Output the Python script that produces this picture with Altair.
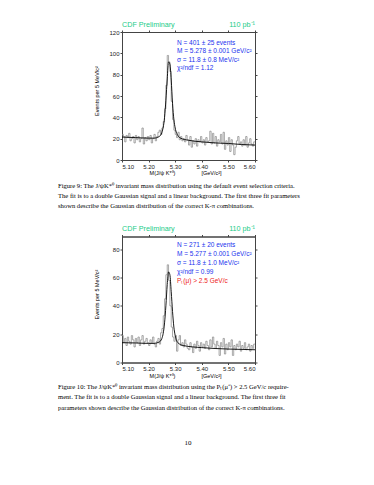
import altair as alt
import pandas as pd

# ---------------- data ----------------
bin_lo = 5.100
bin_w = 0.005

counts_top = [24, 22, 17, 23, 21, 25, 18, 20, 22, 16,
              23, 19, 22, 17, 20, 30, 15, 21, 18, 22,
              19, 23, 16, 20, 24, 18, 22, 26, 28, 24,
              30, 36, 48, 70, 98, 92, 83, 55, 38, 28,
              24, 21, 26, 19, 22, 18, 20, 17, 23, 19,
              14, 22, 12, 18, 15, 20, 13, 19, 17, 22,
              16, 19, 14, 21, 17, 18, 27, 15, 25, 16,
              22, 13, 19, 17, 24, 15, 26, 10, 18, 14,
              21, 8, 19, 14, 5, 12, 18, 22, 15, 17,
              13, 19, 14, 22, 12, 16, 20, 15, 13, 17]

counts_bot = [19, 14, 17, 12, 18, 15, 13, 19, 16, 11,
              17, 14, 18, 12, 16, 19, 13, 15, 17, 14,
              12, 16, 14, 18, 13, 11, 15, 17, 13, 21,
              24, 33, 45, 62, 69, 58, 40, 25, 18, 15,
              19, 8, 16, 19, 12, 14, 11, 16, 13, 10,
              9, 14, 11, 7, 13, 10, 15, 12, 8, 14,
              11, 13, 10, 15, 12, 9, 16, 11, 18, 13,
              10, 15, 12, 5, 14, 11, 17, 6, 13, 9,
              14, 11, 16, 5, 12, 9, 13, 11, 15, 8,
              12, 10, 14, 9, 11, 13, 8, 12, 10, 13]

fit_top_x = [5.10, 5.15, 5.20, 5.22, 5.24, 5.25, 5.26, 5.265, 5.27, 5.275,
             5.28, 5.285, 5.29, 5.295, 5.30, 5.31, 5.32, 5.35, 5.40, 5.45,
             5.50, 5.55, 5.60]
fit_top_y = [21.5, 21, 20.5, 20.5, 22, 26, 40, 56, 76, 92,
             90, 75, 53, 38, 30, 23, 20.5, 18.5, 17, 16,
             15.5, 14.5, 14]

fit_bot_x = [5.10, 5.15, 5.20, 5.22, 5.24, 5.25, 5.26, 5.265, 5.27, 5.275,
             5.28, 5.285, 5.29, 5.295, 5.30, 5.31, 5.33, 5.40, 5.50, 5.60]
fit_bot_y = [14, 13.8, 13.5, 13.5, 14.5, 17, 28, 40, 55, 64,
             62, 50, 36, 25, 19, 14, 12, 10.5, 9.5, 9]

x_ticks = [5.10, 5.20, 5.30, 5.40, 5.50, 5.60]
y_ticks_top = [0, 20, 40, 60, 80, 100, 120]
y_ticks_bot = [0, 20, 40, 60, 80]
y_max_top = 120
y_max_bot = 89

notes_top = ["N = 401 ± 25 events", "M = 5.278 ± 0.001 GeV/c²",
             "σ = 11.8 ± 0.8 MeV/c²", "χ²/ndf = 1.12"]
notes_bot = ["N = 271 ± 20 events", "M = 5.277 ± 0.001 GeV/c²",
             "σ = 11.8 ± 1.0 MeV/c²", "χ²/ndf = 0.99"]
cut_bot = "Pₜ(μ) > 2.5 GeV/c"

caption_top = [
    "Figure 9:  The J/ψK*⁰ invariant mass distribution using the default event selection criteria.",
    "The fit is to a double Gaussian signal and a linear background.  The first three fit parameters",
    "shown describe the Gaussian distribution of the correct K-π combinations.",
]
caption_bot = [
    "Figure 10:  The J/ψK*⁰ invariant mass distribution using the Pₜ(μ⁺) > 2.5 GeV/c require-",
    "ment.  The fit is to a double Gaussian signal and a linear background.  The first three fit",
    "parameters shown describe the Gaussian distribution of the correct K-π combinations.",
]
page_number = "10"

# ---------------- styling ----------------
W = 133
H1 = 128
H2 = 126
SANS = "Liberation Sans"
SERIF = "Liberation Serif"
GREEN = "#22cc88"
BLUE = "#2233ee"
RED = "#ee2222"


def hist_df(counts):
    xs = [round(bin_lo + i * bin_w, 3) for i in range(len(counts) + 1)]
    ys = list(counts) + [counts[-1]]
    return pd.DataFrame({"m": xs, "n": ys})


def txt(s, x, y, color="black", size=6, font=SANS, align="left",
        baseline="middle", angle=0, line_height=None):
    kw = dict(text=s, align=align, baseline=baseline, font=font,
              fontSize=size, color=color)
    if angle:
        kw["angle"] = angle
    if line_height:
        kw["lineHeight"] = line_height
    return alt.Chart(alt.Data(values=[{}])).mark_text(**kw).encode(
        x=alt.value(x), y=alt.value(y))


def panel(counts, fx, fy, ymax, yticks, H, note_layers, caption, cap_y, extra=()):
    xs = alt.Scale(domain=[5.1, 5.6], nice=False, zero=False)
    ys = alt.Scale(domain=[0, ymax], nice=False)
    common = dict(domainColor="#444", tickColor="#444", labelFont=SANS,
                  labelFontSize=6, labelColor="#222", title=None, grid=False,
                  tickSize=2, labelPadding=1)
    hd = hist_df(counts)
    hist = alt.Chart(hd).mark_line(
        interpolate="step-after", color="#8c8c8c", strokeWidth=0.75
    ).encode(
        x=alt.X("m:Q", scale=xs,
                axis=alt.Axis(values=x_ticks, format=".2f", orient="bottom", **common)),
        y=alt.Y("n:Q", scale=ys,
                axis=alt.Axis(values=yticks, format="d", orient="left", **common)),
    )
    mirror = alt.Chart(hd).mark_line(opacity=0).encode(
        x=alt.X("m:Q", scale=xs,
                axis=alt.Axis(values=x_ticks, orient="top", labels=False, **common)),
        y=alt.Y("n:Q", scale=ys,
                axis=alt.Axis(values=yticks, orient="right", labels=False, **common)),
    )
    fit = alt.Chart(pd.DataFrame({"m": fx, "f": fy})).mark_line(
        interpolate="monotone", color="black", strokeWidth=0.9
    ).encode(
        x=alt.X("m:Q", scale=xs, axis=None),
        y=alt.Y("f:Q", scale=ys, axis=None),
    )
    layers = [hist, mirror, fit,
              txt("CDF Preliminary", 0, -7.5, GREEN, 7.2),
              txt("110 pb⁻¹", W, -7.5, GREEN, 7.2, align="right"),
              txt("Events per 5 MeV/c²", -25, H / 2 - 5, size=5.5, angle=270, align="center"),
              txt("M(J/ψ K*⁰)", 40.5, H + 13, size=5.5, align="center"),
              txt("[GeV/c²]", 89.5, H + 13, size=5.5, align="center"),
              txt(caption, -64, cap_y, size=6.6, font=SERIF, baseline="top", line_height=10.3),
              ] + list(note_layers) + list(extra)
    return alt.layer(*layers).resolve_axis(x="independent", y="independent").properties(
        width=W, height=H)


top = panel(counts_top, fit_top_x, fit_top_y, y_max_top, y_ticks_top, H1,
            [txt(notes_top, 55, 11.2, BLUE, 6.5, line_height=8.3)],
            caption_top, 150.5)

bot = panel(counts_bot, fit_bot_x, fit_bot_y, y_max_bot, y_ticks_bot, H2,
            [txt(notes_bot, 55, 8.7, BLUE, 6.5, line_height=9),
             txt(cut_bot, 55, 44.7, RED, 6.5)],
            caption_bot, 147.5,
            extra=[txt(page_number, 66, 206, size=7, font=SERIF, align="center")])

chart = alt.VConcatChart(vconcat=[top, bot], spacing=76.5, bounds="flush").properties(
    padding={"left": 49, "top": 12, "right": 5, "bottom": 5}
).configure_view(stroke="#444", strokeWidth=1)

chart.save("out.html", embed_options={"renderer": "svg", "actions": False})
